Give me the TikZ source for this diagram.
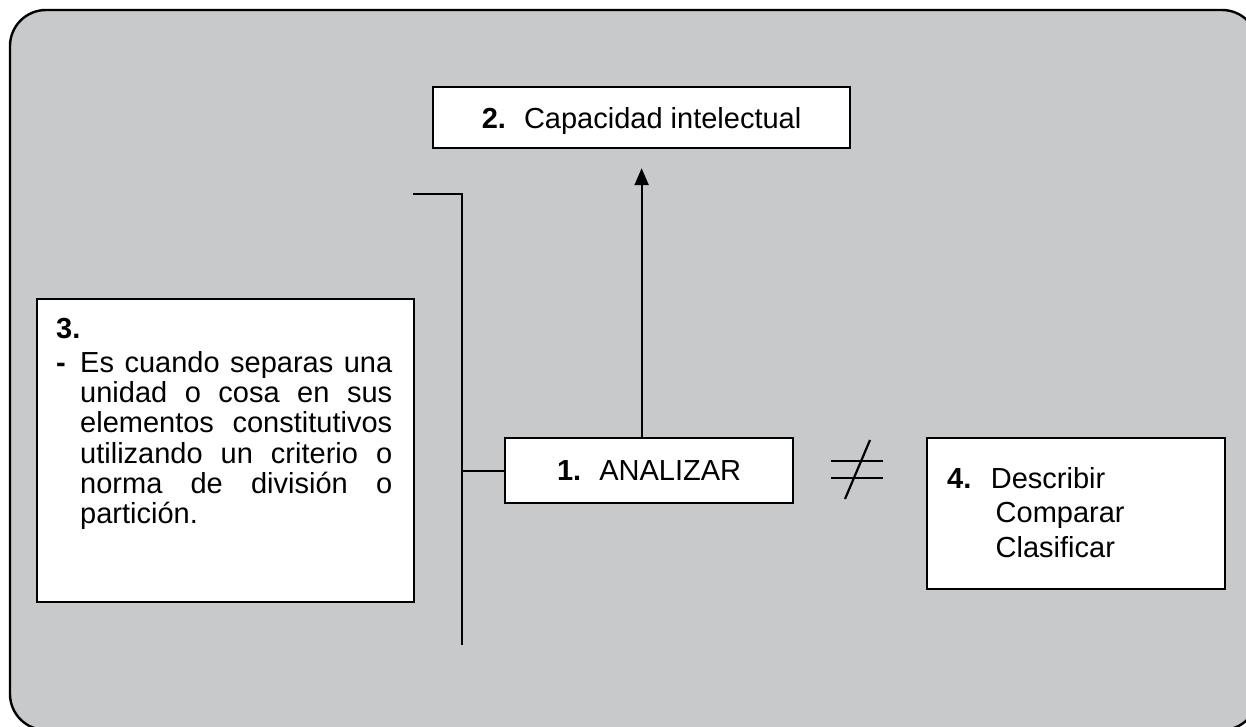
\documentclass[tikz,border=0pt]{standalone}
\usepackage{fontspec}
\setmainfont{Liberation Sans}
\usetikzlibrary{arrows.meta}
\definecolor{bg}{RGB}{200,201,203}
\begin{document}
\begin{tikzpicture}[x=1pt,y=-1pt,
  box/.style={draw=black, fill=white, line width=2.2pt, inner sep=0pt, anchor=north west},
  bigfont/.style={font=\fontsize{29}{34}\selectfont},
  txt/.style={inner sep=0pt, anchor=base west, bigfont},
  conn/.style={line width=2.2pt, draw=black},
  arr/.style={conn, -{Triangle[width=14pt,length=17pt]}},
]
\useasboundingbox (0,0) rectangle (1246,726);
% outer panel
\draw[fill=bg, line width=2.4pt, rounded corners=36pt] (10,10) rectangle (1258,730);

% box 2
\node[box, bigfont, minimum width=417pt, minimum height=61pt, text height=21pt, text depth=0pt] (b2) at (432,86)
  {\textbf{2.}\hspace{18pt}Capacidad intelectual};
% box 1
\node[box, bigfont, minimum width=288pt, minimum height=65pt, text height=20pt, text depth=0pt] (b1) at (504,437)
  {\textbf{1.}\hspace{18pt}ANALIZAR};
% box 3
\node[box, minimum width=377pt, minimum height=303pt] (b3) at (36,298) {};
\node[txt] (t3n) at (56,338) {\textbf{3.}};
\node[txt] (t3d) at (56,372) {\textbf{-}};
\node[inner sep=0pt, anchor=north west, text width=312pt, align=justify,
      font=\fontsize{29}{30.3}\selectfont] (t3) at (80,351)
  {\tolerance=10000\relax\hyphenpenalty=10000\relax
   Es cuando separas una\linebreak unidad o cosa en sus\linebreak elementos constitutivos\linebreak utilizando un criterio o\linebreak norma de división o\linebreak partición.};
% box 4
\node[box, minimum width=298pt, minimum height=151pt] (b4) at (926,437) {};
\node[txt] (t4a) at (947,488) {\textbf{4.}\hspace{19.5pt}Describir};
\node[txt] (t4b) at (995.5,522) {Comparar};
\node[txt] (t4c) at (995.5,557) {Clasificar};

% arrow from 1 to 2
\draw[arr, shorten >=19pt] (b1.north -| b2.south) -- (b2.south);

% bracket
\coordinate (brtop) at (413,194);
\coordinate (brc) at (462,194);
\coordinate (brbot) at (462,645);
\draw[conn] (brtop) -- (brc) -- (brbot);
\draw[conn] (b1.west) -- (b1.west -| brc);

% not-equal sign
\coordinate (n1a) at (831,461); \coordinate (n1b) at (883,461);
\coordinate (n2a) at (831,478); \coordinate (n2b) at (883,478);
\coordinate (nsa) at (870,440); \coordinate (nsb) at (845,499);
\draw[conn] (n1a) -- (n1b);
\draw[conn] (n2a) -- (n2b);
\draw[conn] (nsa) -- (nsb);
\end{tikzpicture}
\end{document}
